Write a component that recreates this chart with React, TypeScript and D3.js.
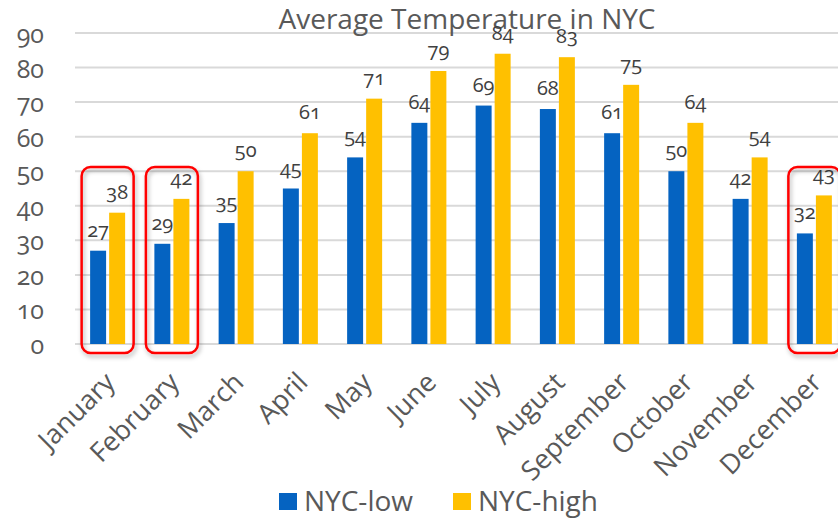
import React from 'react';
import * as d3 from 'd3';

const months = ['January', 'February', 'March', 'April', 'May', 'June', 'July', 'August', 'September', 'October', 'November', 'December'];
const lowTemps = [27, 29, 35, 45, 54, 64, 69, 68, 61, 50, 42, 32];
const highTemps = [38, 42, 50, 61, 71, 79, 84, 83, 75, 64, 54, 43];
const seriesNames = ['NYC-low', 'NYC-high'];
const yTicks = [0, 10, 20, 30, 40, 50, 60, 70, 80, 90];
const highlighted = ['January', 'February', 'December'];

const W = 838, H = 519;
const FONT = "'Open Sans', 'Liberation Sans', sans-serif";
const colors = ['#0563C1', '#FFC000'];

export default function App() {
  const x = d3.scaleBand<string>().domain(months).range([75.5, 846.5]);
  // two bars of ~16px with a 3px gap, centred in each month
  const sub = d3.scaleBand<string>().domain(seriesNames).range([0, 35]).paddingInner(0.16);
  const subOff = x.bandwidth() / 2 - 17.5;
  const y = d3.scaleLinear().domain([0, 90]).range([344, 33]);
  const series = [lowTemps, highTemps];
  const oldNums = { fontVariantNumeric: 'oldstyle-nums' } as React.CSSProperties;

  return (
    <svg width={W} height={H} style={{ position: 'absolute', left: 0, top: 0, background: '#fff' }} fontFamily={FONT}>
      <defs>
        <filter id="shadow" x="-20%" y="-20%" width="140%" height="140%">
          <feDropShadow dx="1.5" dy="3" stdDeviation="2" floodColor="#000" floodOpacity="0.3" />
        </filter>
      </defs>

      {yTicks.map(t => (
        <g key={t}>
          <line x1={75} x2={W} y1={y(t)} y2={y(t)} stroke="#D9D9D9" strokeWidth={2} />
          <text x={44} y={y(t) + 10} textAnchor="end" fontSize={25} fill="#595959" style={oldNums}>{t}</text>
        </g>
      ))}

      <text x={467} y={29} textAnchor="middle" fontSize={28} fill="#595959">Average Temperature in NYC</text>

      {series.map((vals, si) => (
        <g key={si}>
          {vals.map((v, i) => {
            const bx = (x(months[i]) as number) + subOff + (sub(seriesNames[si]) as number);
            return (
              <g key={i}>
                <rect x={bx} y={y(v)} width={sub.bandwidth()} height={y(0) - y(v)} fill={colors[si]} />
                <text x={bx + sub.bandwidth() / 2} y={y(v) - 14} textAnchor="middle" fontSize={20} fill="#404040" style={oldNums}>{v}</text>
              </g>
            );
          })}
        </g>
      ))}

      {highlighted.map(m => {
        const cx = (x(m) as number) + x.bandwidth() / 2;
        return (
          <rect key={m} x={cx - 26} y={167} width={52} height={186} rx={9} fill="none" stroke="#FF0000" strokeWidth={2.5} filter="url(#shadow)" />
        );
      })}

      {months.map(m => {
        const cx = (x(m) as number) + x.bandwidth() / 2;
        return (
          <text key={m} transform={`translate(${cx + 9},${384}) rotate(-45)`} textAnchor="end" fontSize={27} fill="#595959">{m}</text>
        );
      })}

      {seriesNames.map((s, i) => {
        const lx = [279, 453][i];
        return (
          <g key={s}>
            <rect x={lx} y={493} width={18} height={17} fill={colors[i]} />
            <text x={lx + 25} y={511} fontSize={28} fill="#595959">{s}</text>
          </g>
        );
      })}
    </svg>
  );
}
